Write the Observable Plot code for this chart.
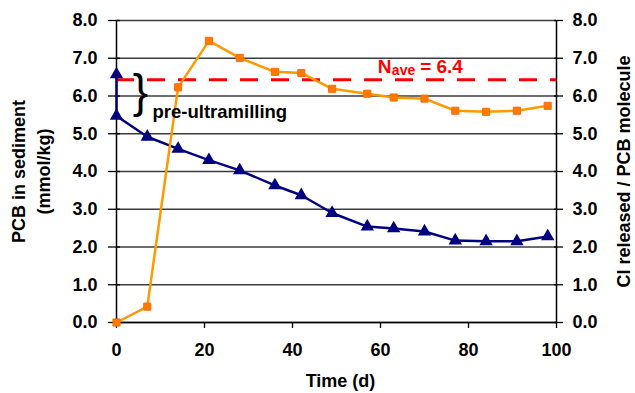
<!DOCTYPE html>
<html><head><meta charset="utf-8">
<script src="https://cdn.jsdelivr.net/npm/d3@7"></script>
<script src="https://cdn.jsdelivr.net/npm/@observablehq/plot@0.6"></script>
<style>body{margin:0;background:#fff}</style>
</head><body><div id="chart"></div>
<script>
// PCB in sediment (mmol/kg), left axis
const pcbDays = [0, 0, 7, 14, 21, 28, 36, 42, 49, 57, 63, 70, 77, 84, 91, 98];
const pcbSediment = [6.57, 5.47, 4.92, 4.6, 4.3, 4.03, 3.63, 3.37, 2.9, 2.54, 2.49, 2.41, 2.17, 2.15, 2.15, 2.28];
// Cl released per PCB molecule, right axis
const clDays = [0, 7, 14, 21, 28, 36, 42, 49, 57, 63, 70, 77, 84, 91, 98];
const clReleased = [0.0, 0.42, 6.23, 7.46, 7.01, 6.64, 6.61, 6.19, 6.06, 5.96, 5.93, 5.61, 5.58, 5.61, 5.74];
// average line
const nAve = 6.43;
const nAveText = "= 6.4";
// ticks
const xTicks = [0, 20, 40, 60, 80, 100];
const yTicks = [0, 1, 2, 3, 4, 5, 6, 7, 8];
// annotation anchors
const nAveLabelDay = 59.4;
const preLabel = "pre-ultramilling";

const pcb = pcbDays.map((d, i) => ({day: d, value: pcbSediment[i]}));
const cl = clDays.map((d, i) => ({day: d, value: clReleased[i]}));
const braceY = (pcbSediment[0] + pcbSediment[1]) / 2;

const FONT = "'Liberation Sans', Arial, Helvetica, sans-serif";
const fmt = d3.format(".1f");

const chart = Plot.plot({
  width: 635, height: 393,
  marginLeft: 116, marginRight: 79, marginTop: 20, marginBottom: 71,
  style: {fontFamily: FONT, fontSize: "18px", fontWeight: "bold", background: "#fff", color: "#000"},
  x: {domain: [0, 100], label: null},
  y: {domain: [0, 8], label: null},
  marks: [
    Plot.ruleY(yTicks, {stroke: "#3c3c3c", strokeWidth: 1.3}),
    // x axis
    Plot.axisX(xTicks, {tickSize: 6, fill: "none", stroke: "#000", strokeWidth: 1.3, label: null}),
    Plot.axisX(xTicks, {tickSize: 0, tickPadding: 21, fontSize: 18, fontWeight: "bold", label: null}),
    // left axis
    Plot.axisY(yTicks, {anchor: "left", tickSize: 12, dx: 4, fill: "none", stroke: "#000", strokeWidth: 1.3, label: null}),
    Plot.axisY(yTicks, {anchor: "left", tickSize: 0, tickPadding: 19, tickFormat: fmt, fontSize: 18, fontWeight: "bold", label: null}),
    // right axis
    Plot.axisY(yTicks, {anchor: "right", tickSize: 9, dx: -3, fill: "none", stroke: "#000", strokeWidth: 1.3, label: null}),
    Plot.axisY(yTicks, {anchor: "right", tickSize: 0, tickPadding: 16, tickFormat: fmt, fontSize: 18, fontWeight: "bold", label: null}),
    Plot.ruleY([0], {stroke: "#000", strokeWidth: 1.5}),
    Plot.ruleX([0], {stroke: "#000", strokeWidth: 1.5}),
    Plot.ruleX([100], {stroke: "#000", strokeWidth: 1.5}),
    // axis titles
    Plot.text(["PCB in sediment"], {frameAnchor: "left", rotate: -90, dx: -97, textAnchor: "middle", lineAnchor: "middle", fontSize: 18, fontWeight: "bold"}),
    Plot.text(["(mmol/kg)"], {frameAnchor: "left", rotate: -90, dx: -72, textAnchor: "middle", lineAnchor: "middle", fontSize: 18, fontWeight: "bold"}),
    Plot.text(["Cl released / PCB molecule"], {frameAnchor: "right", rotate: -90, dx: 68, textAnchor: "middle", lineAnchor: "middle", fontSize: 18, fontWeight: "bold"}),
    Plot.text(["Time (d)"], {frameAnchor: "bottom", dy: 64, dx: 4, textAnchor: "middle", fontSize: 18, fontWeight: "bold"}),
    // average line
    Plot.ruleY([nAve], {stroke: "#ff0000", strokeWidth: 3, strokeDasharray: "18,13"}),
    Plot.text(["N"], {x: nAveLabelDay, y: nAve, dy: -13, textAnchor: "start", fill: "#ff0000", fontSize: 19, fontWeight: "bold"}),
    Plot.text(["ave"], {x: nAveLabelDay, y: nAve, dx: 14, dy: -9, textAnchor: "start", fill: "#ff0000", fontSize: 14, fontWeight: "bold"}),
    Plot.text([" " + nAveText], {x: nAveLabelDay, y: nAve, dx: 37, dy: -13, textAnchor: "start", fill: "#ff0000", fontSize: 19, fontWeight: "bold"}),
    // series
    Plot.line(pcb, {x: "day", y: "value", stroke: "#000080", strokeWidth: 2.5}),
    Plot.dot(pcb, {x: "day", y: "value", symbol: "triangle", r: 4, fill: "#000080", stroke: "#000080"}),
    Plot.line(cl, {x: "day", y: "value", stroke: "#ff9900", strokeWidth: 2.5}),
    Plot.dot(cl, {x: "day", y: "value", symbol: "square", r: 4, fill: "#ff7a00", stroke: "#ff6a00", strokeWidth: 1}),
    // brace annotation
    Plot.text(["}"], {x: 0, y: braceY, dx: 24, dy: -3, fontSize: 46, fontWeight: "normal", fill: "#000"}),
    Plot.text([preLabel], {x: 0, y: braceY, dx: 36, dy: 17, textAnchor: "start", fontSize: 18.5, fontWeight: "bold", fill: "#000"})
  ]
});
document.getElementById("chart").append(chart);
</script>
</body></html>
